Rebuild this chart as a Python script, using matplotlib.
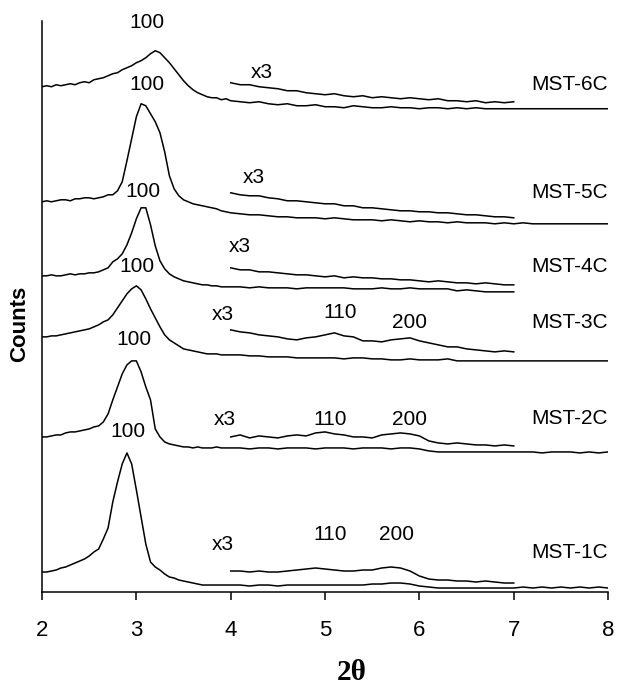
import numpy as np
import matplotlib.pyplot as plt

plt.rcParams['font.family'] = ['Liberation Sans', 'DejaVu Sans']

# 2theta grids: fine step around the (100) peak, coarser after 4
x_main = np.round(np.concatenate([np.arange(2.0, 3.99, 0.05), np.arange(4.0, 8.01, 0.1)]), 2)
x_x3 = np.round(np.arange(4.0, 7.01, 0.1), 2)

# counts (already offset / stacked)
mst6_main = [505, 506, 505, 507, 506, 507, 508, 507, 509, 510,
             509, 512, 513, 514, 516, 518, 519, 522, 524, 526,
             529, 531, 534, 538, 541, 539, 534, 529, 523, 517,
             511, 506, 502, 499, 497, 495, 494, 494, 492, 493,
             491, 490, 489, 490, 488, 487, 488, 486, 486, 487,
             485, 485, 484, 486, 485, 484, 484, 485, 484, 484,
             483, 484, 484, 483, 484, 483, 484, 483, 483, 483,
             483, 483, 483, 483, 483, 483, 483, 483, 483, 483,
             483]
mst6_x3 = [509, 507, 507, 505, 504, 503, 501, 501, 499, 498,
           497, 498, 496, 495, 496, 494, 495, 494, 493, 494,
           493, 492, 493, 491, 491, 490, 491, 489, 490, 489,
           490]

mst5_main = [390, 391, 390, 391, 392, 392, 391, 393, 393, 394,
             394, 393, 394, 395, 397, 397, 401, 410, 431, 453,
             475, 488, 486, 478, 470, 459, 440, 416, 403, 396,
             392, 390, 388, 387, 386, 385, 384, 383, 381, 380,
             379, 378, 377, 377, 376, 375, 375, 374, 374, 374,
             373, 374, 373, 372, 372, 372, 371, 372, 371, 370,
             371, 370, 370, 369, 370, 369, 369, 369, 368, 369,
             368, 369, 368, 368, 368, 368, 368, 368, 368, 368,
             368]
mst5_x3 = [399, 397, 396, 396, 394, 393, 391, 391, 390, 389,
           388, 388, 386, 386, 384, 384, 383, 382, 381, 381,
           380, 380, 379, 379, 378, 377, 377, 376, 375, 375,
           374]

mst4_main = [316, 316, 317, 316, 316, 317, 318, 317, 318, 318,
             319, 319, 320, 322, 324, 330, 333, 338, 347, 359,
             373, 384, 384, 367, 346, 331, 323, 318, 315, 313,
             311, 310, 309, 308, 307, 307, 306, 306, 305, 305,
             305, 305, 304, 305, 304, 304, 304, 303, 304, 304,
             304, 304, 304, 303, 303, 303, 304, 303, 303, 304,
             303, 303, 303, 303, 301, 302, 301, 300, 300, 300,
             300]
mst4_x3 = [324, 322, 322, 320, 320, 319, 318, 317, 317, 316,
           315, 316, 314, 315, 314, 314, 313, 313, 312, 312,
           311, 310, 311, 310, 309, 309, 308, 309, 308, 307,
           307]

mst3_main = [255, 255, 256, 256, 257, 258, 259, 260, 261, 262,
             263, 265, 267, 270, 272, 277, 284, 291, 298, 303,
             306, 302, 293, 283, 274, 265, 257, 252, 249, 246,
             243, 242, 241, 240, 239, 238, 238, 238, 237, 237,
             237, 237, 236, 236, 235, 235, 235, 234, 234, 234,
             234, 234, 233, 234, 234, 233, 233, 232, 232, 233,
             232, 232, 232, 233, 231, 231, 231, 231, 231, 231,
             231, 231, 231, 231, 231, 231, 231, 231, 231, 231,
             231]
mst3_x3 = [262, 260, 259, 257, 256, 255, 253, 252, 254, 255,
           257, 259, 256, 255, 251, 251, 250, 252, 253, 254,
           251, 249, 247, 245, 245, 243, 242, 241, 240, 241,
           240]

mst2_main = [155, 155, 156, 157, 157, 159, 160, 160, 161, 162,
             163, 165, 166, 170, 178, 192, 205, 218, 227, 231,
             231, 220, 205, 192, 163, 155, 150, 148, 147, 146,
             145, 145, 144, 145, 144, 144, 144, 145, 144, 144,
             144, 144, 143, 144, 144, 143, 144, 144, 144, 143,
             144, 144, 144, 143, 144, 144, 144, 143, 144, 144,
             143, 141, 140, 140, 140, 140, 140, 140, 140, 140,
             140, 140, 140, 139, 140, 140, 140, 139, 140, 139,
             140]
mst2_x3 = [155, 157, 154, 156, 155, 154, 156, 157, 156, 159,
           160, 158, 157, 155, 155, 154, 157, 158, 159, 158,
           156, 151, 149, 148, 149, 148, 147, 147, 146, 147,
           146]

mst1_main = [20, 20, 21, 22, 24, 25, 27, 29, 31, 33,
             36, 40, 43, 53, 64, 90, 110, 128, 139, 128,
             102, 75, 48, 30, 25, 22, 18, 15, 14, 12,
             11, 10, 9, 8, 7, 7, 7, 7, 7, 7,
             7, 7, 6, 7, 7, 6, 7, 7, 7, 7,
             7, 7, 7, 7, 7, 8, 8, 9, 9, 8,
             6, 5, 4, 4, 4, 4, 4, 4, 4, 4,
             4, 5, 4, 5, 4, 5, 4, 5, 4, 5,
             4]
mst1_x3 = [21, 21, 20, 21, 20, 20, 21, 22, 23, 24,
           23, 22, 21, 21, 22, 22, 24, 25, 24, 21,
           16, 13, 12, 12, 11, 11, 10, 11, 10, 9,
           9]

samples = ['MST-6C', 'MST-5C', 'MST-4C', 'MST-3C', 'MST-2C', 'MST-1C']
mains = [mst6_main, mst5_main, mst4_main, mst3_main, mst2_main, mst1_main]
x3s = [mst6_x3, mst5_x3, mst4_x3, mst3_x3, mst2_x3, mst1_x3]

# label positions (2theta, counts)
name_y = [507, 399, 325, 269, 173, 39]
peak100_pos = [(3.11, 569), (3.11, 507), (3.07, 400), (3.01, 325), (2.97, 252), (2.91, 160)]
x3_pos = [(4.33, 519), (4.24, 414), (4.10, 345), (3.92, 277), (3.94, 172), (3.92, 47)]
hkl_pos = {'MST-3C': [(5.16, 279), (5.90, 269)],
           'MST-2C': [(5.05, 172), (5.90, 172)],
           'MST-1C': [(5.05, 57), (5.76, 57)]}

fig = plt.figure(figsize=(6.18, 6.9), dpi=100)
ax = fig.add_axes([0.068, 0.142, 0.916, 0.828])

for i, name in enumerate(samples):
    y = mains[i]
    ax.plot(x_main[:len(y)], y, color='black', lw=1.1)
    ax.plot(x_x3[:len(x3s[i])], x3s[i], color='black', lw=1.1)
    ax.text(8.0, name_y[i], name, ha='right', va='center', fontsize=15)
    ax.text(peak100_pos[i][0], peak100_pos[i][1], '100', ha='center', va='center', fontsize=15)
    ax.text(x3_pos[i][0], x3_pos[i][1], 'x3', ha='center', va='center', fontsize=15)
    if name in hkl_pos:
        for lab, (px, py) in zip(['110', '200'], hkl_pos[name]):
            ax.text(px, py, lab, ha='center', va='center', fontsize=15)

ax.set_xlim(2, 8)
ax.set_ylim(0, 571)
ax.set_xticks([2, 3, 4, 5, 6, 7, 8])
ax.set_yticks([])
ax.spines['top'].set_visible(False)
ax.spines['right'].set_visible(False)
ax.spines['left'].set_linewidth(1.1)
ax.spines['bottom'].set_linewidth(1.1)
ax.tick_params(axis='x', direction='out', length=6, width=1.1, pad=14, labelsize=16)

fig.text(352 / 618, 1 - 673 / 690, '2\u03b8', family='Liberation Serif', weight='bold',
         fontsize=21, ha='center', va='center')
fig.text(20 / 618, 1 - 324 / 690, 'Counts', rotation=90, weight='bold', fontsize=16,
         ha='center', va='center')

fig.savefig('out.png', dpi=100)
